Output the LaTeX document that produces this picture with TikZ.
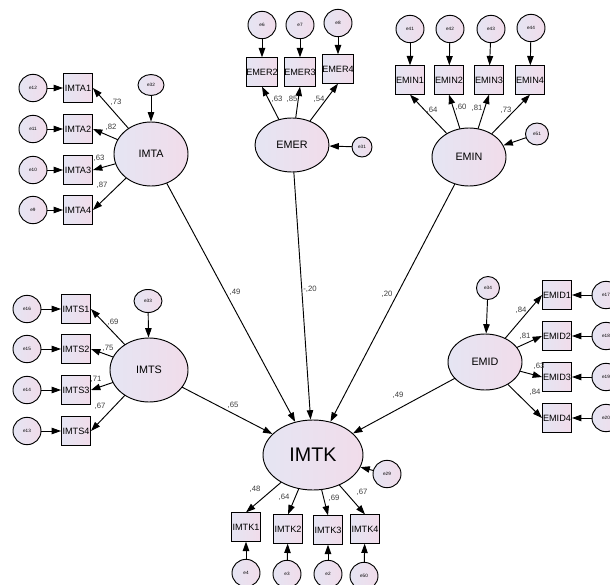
\documentclass[tikz,border=0pt]{standalone}
\usepackage{fontspec}
\setmainfont{Liberation Sans}
\usetikzlibrary{arrows.meta,shapes.geometric}
\definecolor{fillL}{RGB}{229,229,243}
\definecolor{fillR}{RGB}{241,220,234}
\definecolor{txtgray}{RGB}{60,60,60}
\begin{document}
\begin{tikzpicture}[x=0.03cm,y=-0.03cm,line width=0.8pt,line cap=round,
		>={Triangle[length=8pt,width=5.5pt]},
		obs/.style={draw,left color=fillL,right color=fillR,minimum width=0.87cm,minimum height=0.85cm,inner sep=0,font=\fontsize{7.8}{9}\selectfont},
		err/.style={draw,ellipse,left color=fillL,right color=fillR,minimum width=0.84cm,minimum height=0.82cm,inner sep=0,font=\fontsize{4}{5}\selectfont},
		lat/.style={draw,ellipse,left color=fillL,right color=fillR,inner sep=0,font=\fontsize{9.2}{11}\selectfont},
		lbl/.style={inner sep=0,text=txtgray,font=\fontsize{6.6}{8}\selectfont}]
	\clip (0,0) rectangle (610,585);
	% latent variables
	\node[lat,minimum width=2.22cm,minimum height=1.92cm] (imta) at (151,154) {IMTA};
	\node[lat,minimum width=2.22cm,minimum height=1.62cm] (emer) at (292,145) {EMER};
	\node[lat,minimum width=2.22cm,minimum height=1.74cm] (emin) at (469,157) {EMIN};
	\node[lat,minimum width=2.34cm,minimum height=1.92cm] (imts) at (149,370) {IMTS};
	\node[lat,minimum width=2.22cm,minimum height=1.68cm] (emid) at (485,362) {EMID};
	\node[lat,minimum width=3.0cm,minimum height=2.1cm,font=\fontsize{16.8}{19}\selectfont] (imtk) at (313,455) {IMTK};
	% IMTA block
	\node[err,minimum width=0.78cm,minimum height=0.63cm] (e32) at (151,85) {e32};
	\node[obs] (imta1) at (78,88) {IMTA1};
	\node[obs] (imta2) at (78,129) {IMTA2};
	\node[obs] (imta3) at (78,170) {IMTA3};
	\node[obs] (imta4) at (78,210) {IMTA4};
	\node[err] (e12) at (33,88) {e12};
	\node[err] (e11) at (33,129) {e11};
	\node[err] (e10) at (33,170) {e10};
	\node[err] (e9) at (33,210) {e9};
	\draw[->] (e32) -- (imta);
	\draw[->] (imta) -- (imta1.east);
	\draw[->] (imta) -- (imta2.east);
	\draw[->] (imta) -- (imta3.east);
	\draw[->] (imta) -- (imta4.east);
	\draw[->] (e12) -- (imta1);
	\draw[->] (e11) -- (imta2);
	\draw[->] (e10) -- (imta3);
	\draw[->] (e9) -- (imta4);
	\node[lbl] (la1) at (116,102) {,73};
	\node[lbl] (la2) at (111,127) {,82};
	\node[lbl] (la3) at (99,158) {,63};
	\node[lbl] (la4) at (102,185) {,87};
	% EMER block
	\node[obs] (emer2) at (262,72) {EMER2};
	\node[obs] (emer3) at (300,72) {EMER3};
	\node[obs] (emer4) at (338,69) {EMER4};
	\node[err] (e6) at (262,25) {e6};
	\node[err] (e7) at (300,25) {e7};
	\node[err] (e8) at (338,23) {e8};
	\node[err,minimum width=0.6cm,minimum height=0.6cm] (e31) at (362,147) {e31};
	\draw[->] (e6) -- (emer2);
	\draw[->] (e7) -- (emer3);
	\draw[->] (e8) -- (emer4);
	\draw[->] (emer) -- (emer2.south);
	\draw[->] (emer) -- (emer3.south);
	\draw[->] (emer) -- (emer4.south);
	\draw[->] (e31) -- (emer);
	\node[lbl] (lr2) at (277,99) {,63};
	\node[lbl] (lr3) at (292,99) {,85};
	\node[lbl] (lr4) at (319,99) {,54};
	% EMIN block
	\node[obs] (emin1) at (410,80) {EMIN1};
	\node[obs] (emin2) at (449,80) {EMIN2};
	\node[obs] (emin3) at (489,80) {EMIN3};
	\node[obs] (emin4) at (530,80) {EMIN4};
	\node[err] (e41) at (410,29) {e41};
	\node[err] (e42) at (450,29) {e42};
	\node[err] (e43) at (491,29) {e43};
	\node[err] (e44) at (531,28) {e44};
	\node[err,minimum width=0.69cm,minimum height=0.66cm] (e51) at (537,134) {e51};
	\draw[->] (e41) -- (emin1);
	\draw[->] (e42) -- (emin2);
	\draw[->] (e43) -- (emin3);
	\draw[->] (e44) -- (emin4);
	\draw[->] (emin) -- (emin1.south);
	\draw[->] (emin) -- (emin2.south);
	\draw[->] (emin) -- (emin3.south);
	\draw[->] (emin) -- (emin4.south);
	\draw[->] (e51) -- (emin);
	\node[lbl] (ln1) at (432,110) {,64};
	\node[lbl] (ln2) at (461,107) {,60};
	\node[lbl] (ln3) at (477,108) {,81};
	\node[lbl] (ln4) at (506,110) {,73};
	% IMTS block
	\node[err,minimum width=0.84cm,minimum height=0.69cm] (e33) at (148,301) {e33};
	\node[obs] (imts1) at (76,309) {IMTS1};
	\node[obs] (imts2) at (76,349) {IMTS2};
	\node[obs] (imts3) at (76,390) {IMTS3};
	\node[obs] (imts4) at (76,431) {IMTS4};
	\node[err] (e16) at (27,309) {e16};
	\node[err] (e15) at (27,349) {e15};
	\node[err] (e14) at (27,390) {e14};
	\node[err] (e13) at (27,431) {e13};
	\draw[->] (e33) -- (imts);
	\draw[->] (imts) -- (imts1.east);
	\draw[->] (imts) -- (imts2.east);
	\draw[->] (imts) -- (imts3.east);
	\draw[->] (imts) -- (imts4.east);
	\draw[->] (e16) -- (imts1);
	\draw[->] (e15) -- (imts2);
	\draw[->] (e14) -- (imts3);
	\draw[->] (e13) -- (imts4);
	\node[lbl] (ls1) at (113,322) {,69};
	\node[lbl] (ls2) at (108,348) {,75};
	\node[lbl] (ls3) at (96,379) {,71};
	\node[lbl] (ls4) at (100,406) {,67};
	% EMID block
	\node[err,minimum width=0.69cm,minimum height=0.69cm] (e34) at (488,288) {e34};
	\node[obs] (emid1) at (557,295) {EMID1};
	\node[obs] (emid2) at (557,336) {EMID2};
	\node[obs] (emid3) at (557,377) {EMID3};
	\node[obs] (emid4) at (557,418) {EMID4};
	\node[err] (e17) at (606,295) {e17};
	\node[err] (e18) at (606,336) {e18};
	\node[err] (e19) at (606,377) {e19};
	\node[err] (e20) at (606,418) {e20};
	\draw[->] (e34) -- (emid);
	\draw[->] (emid) -- (emid1.west);
	\draw[->] (emid) -- (emid2.west);
	\draw[->] (emid) -- (emid3.west);
	\draw[->] (emid) -- (emid4.west);
	\draw[->] (e17) -- (emid1);
	\draw[->] (e18) -- (emid2);
	\draw[->] (e19) -- (emid3);
	\draw[->] (e20) -- (emid4);
	\node[lbl] (ld1) at (521,310) {,84};
	\node[lbl] (ld2) at (525,336) {,81};
	\node[lbl] (ld3) at (539,366) {,63};
	\node[lbl] (ld4) at (535,392) {,84};
	% IMTK block
	\node[obs] (imtk1) at (246,527) {IMTK1};
	\node[obs] (imtk2) at (288,529) {IMTK2};
	\node[obs] (imtk3) at (328,530) {IMTK3};
	\node[obs] (imtk4) at (365,529) {IMTK4};
	\node[err] (e4) at (246,573) {e4};
	\node[err] (e3) at (287,574) {e3};
	\node[err] (e2) at (328,574) {e2};
	\node[err] (e50) at (364,576) {e50};
	\node[err] (e29) at (387,474) {e29};
	\draw[->] (imtk) -- (imtk1.north);
	\draw[->] (imtk) -- (imtk2.north);
	\draw[->] (imtk) -- (imtk3.north);
	\draw[->] (imtk) -- (imtk4.north);
	\draw[->] (e4) -- (imtk1);
	\draw[->] (e3) -- (imtk2);
	\draw[->] (e2) -- (imtk3);
	\draw[->] (e50) -- (imtk4);
	\draw[->] (e29) -- (imtk);
	\node[lbl] (lk1) at (255,489) {,48};
	\node[lbl] (lk2) at (284,497) {,64};
	\node[lbl] (lk3) at (334,498) {,69};
	\node[lbl] (lk4) at (362,492) {,67};
	% structural paths
	\draw[->] (imta) -- (imtk);
	\draw[->] (emer) -- (imtk);
	\draw[->] (emin) -- (imtk);
	\draw[->] (imts) -- (imtk);
	\draw[->] (emid) -- (imtk);
	\node[lbl] (p1) at (235,292) {,49};
	\node[lbl] (p2) at (310,289) {-,20};
	\node[lbl] (p3) at (387,294) {,20};
	\node[lbl] (p4) at (233,405) {,65};
	\node[lbl] (p5) at (398,395) {,49};
\end{tikzpicture}
\end{document}
